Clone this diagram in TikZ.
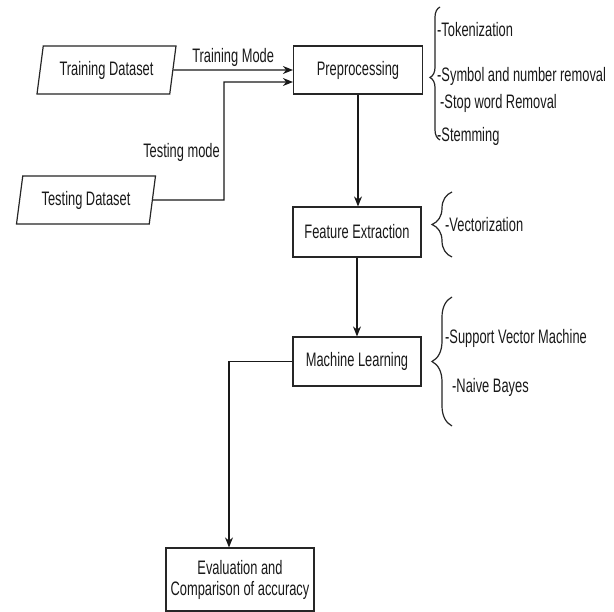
\documentclass[tikz,border=0pt]{standalone}
\usepackage{fontspec}
\setmainfont[FakeStretch=0.66]{Liberation Sans}
\usetikzlibrary{shapes.geometric,arrows.meta,decorations.pathreplacing}
\begin{document}
\begin{tikzpicture}[x=1pt,y=-1pt,
  every node/.style={font=\fontsize{19.5}{22}\selectfont, text=black!90},
  box/.style={draw=black!85, line width=1.2pt, rectangle, inner sep=0pt},
  para/.style={draw=black!85, line width=1.2pt, trapezium, trapezium left angle=71, trapezium right angle=109, trapezium stretches body, inner sep=0pt, minimum width=139pt, minimum height=48pt},
  conn/.style={draw=black!90, line width=1.2pt},
  arr/.style={conn, -{Stealth[length=10pt,width=8pt]}},
  item/.style={anchor=west, inner sep=0pt},
  curly/.style={draw=black!85, line width=1.2pt, decorate, decoration={brace, amplitude=#1}}
]
\useasboundingbox (0,0) rectangle (614,612);
\fill[white] (0,0) rectangle (614,612);

% nodes
\node[para] (train) at (106.5,70) {Training Dataset};
\node[para] (test) at (86,200) {Testing Dataset};
\node[box, minimum width=129pt, minimum height=48pt] (pre) at (358,70) {Preprocessing};
\node[box, minimum width=128pt, minimum height=50pt] (fe) at (357,232) {Feature Extraction};
\node[box, minimum width=128pt, minimum height=49pt] (ml) at (357,361.5) {Machine Learning};
\node[box, minimum width=148pt, minimum height=63pt, align=center] (eval) at (240,579.5) {Evaluation and\\[-1pt]Comparison of accuracy};

% connectors
\draw[arr] (train.east) -- node[above=1pt, inner sep=2pt] (trainlbl) {Training Mode} (pre.west);
\coordinate (tbend) at (224,200);
\draw[arr] (test.east) -- (tbend) |- ([yshift=-12pt]pre.west);
\node[anchor=east, inner sep=2pt] (testlbl) at (222,152) {Testing mode};
\draw[arr] (pre.south) -- (pre.south |- fe.north);
\draw[arr] (fe) -- (ml);
\draw[arr] (ml.west) -| ([xshift=-11pt]eval.north);

% braces
\draw[curly={10pt}, decoration={aspect=0.47}] (440,140) -- (440,7);
\draw[curly={20pt}] (452,257) -- (452,192);
\draw[curly={20pt}] (452,426) -- (452,297);

% list items
\node[item] (t1) at (437,30) {-Tokenization};
\node[item] (t2) at (437,76) {-Symbol and number removal};
\node[item] (t3) at (440,103) {-Stop word Removal};
\node[item] (t4) at (437,136) {-Stemming};
\node[item] (v1) at (445,225) {-Vectorization};
\node[item] (m1) at (445,338) {-Support Vector Machine};
\node[item] (m2) at (452,387) {-Naive Bayes};
\end{tikzpicture}
\end{document}
